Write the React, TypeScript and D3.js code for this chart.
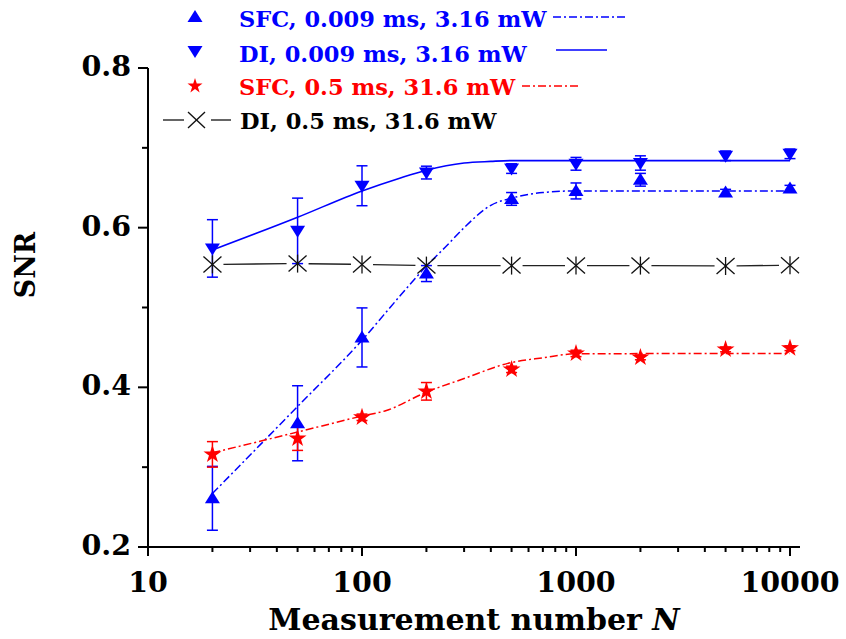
import React from "react";
import * as d3 from "d3";

// ---------- data ----------
const measurementN = [20, 50, 100, 200, 500, 1000, 2000, 5000, 10000];

const sfcFastSNR = [0.261, 0.355, 0.4625, 0.5425, 0.636, 0.646, 0.66, 0.644, 0.649];
const sfcFastErr = [0.04, 0.047, 0.037, 0.01, 0.008, 0.01, 0.008, 0.004, 0.004];

const diFastSNR = [0.574, 0.596, 0.6525, 0.669, 0.674, 0.68, 0.681, 0.69, 0.6925];
const diFastErr = [0.036, 0.041, 0.025, 0.008, 0.006, 0.008, 0.009, 0.006, 0.006];

const sfcSlowSNR = [0.316, 0.336, 0.3625, 0.395, 0.4225, 0.4425, 0.4375, 0.4475, 0.449];
const sfcSlowErr = [0.016, 0.015, 0.004, 0.011, 0.004, 0.004, 0.003, 0.003, 0.003];

const diSlowSNR = [0.554, 0.555, 0.554, 0.5525, 0.5525, 0.5525, 0.5525, 0.552, 0.553];

// fitted curves
const sfcFastFitN = [20, 50, 100, 150, 200, 250, 300, 400, 500, 700, 1000, 10000];
const sfcFastFit = [0.267, 0.376, 0.459, 0.514, 0.552, 0.578, 0.6, 0.628, 0.637, 0.644, 0.646, 0.646];

const diFastFitN = [20, 50, 100, 150, 200, 300, 400, 500, 10000];
const diFastFit = [0.572, 0.613, 0.646, 0.662, 0.672, 0.681, 0.683, 0.684, 0.684];

const sfcSlowFitN = [20, 50, 100, 130, 200, 300, 480, 700, 1000, 10000];
const sfcSlowFit = [0.318, 0.344, 0.364, 0.371, 0.394, 0.411, 0.43, 0.437, 0.442, 0.4425];

const xTickValues = [10, 100, 1000, 10000];
const yTickValues = [0.2, 0.4, 0.6, 0.8];
const yMinorValues = [0.3, 0.5, 0.7];

const legendLabels = [
  "SFC, 0.009 ms, 3.16 mW",
  "DI, 0.009 ms, 3.16 mW",
  "SFC, 0.5 ms, 31.6 mW",
  "DI, 0.5 ms, 31.6 mW",
];

// ---------- styling ----------
const BLUE = "#0000ff";
const RED = "#ff0000";
const FONT = "'DejaVu Serif', serif";
const DASHDOT = "8,3,2,3";

export default function App() {
  const x = d3.scaleLog().domain([10, 10000]).range([148, 790]);
  const y = d3.scaleLinear().domain([0.2, 0.8]).range([547, 68]);
  const xEnd = 800;

  const xMinor: number[] = [];
  [10, 100, 1000].forEach((dec) => {
    for (let k = 2; k <= 9; k++) xMinor.push(dec * k);
  });

  const line = d3
    .line<[number, number]>()
    .x((d) => x(d[0]))
    .y((d) => y(d[1]))
    .curve(d3.curveMonotoneX);

  const zip = (a: number[], b: number[]) => a.map((v, i) => [v, b[i]] as [number, number]);

  const triUp = "M0,-7 L7.5,5 L-7.5,5 Z";
  const triDown = "M0,7 L7.5,-5 L-7.5,-5 Z";
  const star = d3.symbol(d3.symbolStar, 100)() as string;
  const starSmall = d3.symbol(d3.symbolStar, 70)() as string;

  const errorBars = (vals: number[], errs: number[], color: string, key: string) =>
    measurementN.map((n, i) => {
      const cx = x(n);
      const y1 = y(vals[i] + errs[i]);
      const y2 = y(vals[i] - errs[i]);
      return (
        <g key={key + i} stroke={color} strokeWidth={1.5}>
          <line x1={cx} x2={cx} y1={y1} y2={y2} />
          <line x1={cx - 5.5} x2={cx + 5.5} y1={y1} y2={y1} />
          <line x1={cx - 5.5} x2={cx + 5.5} y1={y2} y2={y2} />
        </g>
      );
    });

  // black connecting line with gaps around markers
  const gap = 11;
  const blackSegs = measurementN.slice(0, -1).map((n, i) => {
    const x1 = x(n), y1 = y(diSlowSNR[i]);
    const x2 = x(measurementN[i + 1]), y2 = y(diSlowSNR[i + 1]);
    const L = Math.hypot(x2 - x1, y2 - y1);
    const ux = (x2 - x1) / L, uy = (y2 - y1) / L;
    return (
      <line
        key={"bs" + i}
        x1={x1 + ux * gap}
        y1={y1 + uy * gap}
        x2={x2 - ux * gap}
        y2={y2 - uy * gap}
        stroke="#222"
        strokeWidth={1.3}
      />
    );
  });

  const legendX = 239;
  const legendBase = [27, 62, 95, 129];
  const legendMid = [17, 51, 86, 120];

  return (
    <svg
      width={846}
      height={639}
      style={{ position: "absolute", left: 0, top: 0, background: "#fff" }}
      fontFamily={FONT}
    >
      <rect x={0} y={0} width={846} height={639} fill="#fff" />

      {/* axes */}
      <g stroke="#000" strokeWidth={2} fill="none">
        <line x1={x(10)} x2={xEnd} y1={y(0.2)} y2={y(0.2)} />
        <line x1={x(10)} x2={x(10)} y1={y(0.2)} y2={y(0.8)} />
        {yTickValues.map((v) => (
          <line key={"yt" + v} x1={x(10) - 10} x2={x(10)} y1={y(v)} y2={y(v)} />
        ))}
        {yMinorValues.map((v) => (
          <line key={"ym" + v} x1={x(10) - 6} x2={x(10)} y1={y(v)} y2={y(v)} />
        ))}
        {xTickValues.map((v) => (
          <line key={"xt" + v} x1={x(v)} x2={x(v)} y1={y(0.2)} y2={y(0.2) + 9} />
        ))}
        {xMinor.map((v) => (
          <line key={"xm" + v} x1={x(v)} x2={x(v)} y1={y(0.2)} y2={y(0.2) + 5} />
        ))}
      </g>

      {/* tick labels */}
      <g fontWeight="bold" fontSize={28.5} fill="#000">
        {yTickValues.map((v) => (
          <text key={"yl" + v} x={x(10) - 17} y={y(v) + 8} textAnchor="end">
            {v.toFixed(1)}
          </text>
        ))}
        {xTickValues.map((v) => (
          <text key={"xl" + v} x={x(v)} y={592} textAnchor="middle">
            {String(v)}
          </text>
        ))}
      </g>

      {/* axis titles */}
      <text x={474} y={630} textAnchor="middle" fontWeight="bold" fontSize={30}>
        Measurement number <tspan fontStyle="italic">N</tspan>
      </text>
      <text
        transform="translate(35,265) rotate(-90)"
        textAnchor="middle"
        fontWeight="bold"
        fontSize={27}
      >
        SNR
      </text>

      {/* fitted curves */}
      <path d={line(zip(sfcFastFitN, sfcFastFit)) as string} fill="none" stroke={BLUE} strokeWidth={1.5} strokeDasharray={DASHDOT} />
      <path d={line(zip(diFastFitN, diFastFit)) as string} fill="none" stroke={BLUE} strokeWidth={1.6} />
      <path d={line(zip(sfcSlowFitN, sfcSlowFit)) as string} fill="none" stroke={RED} strokeWidth={1.5} strokeDasharray={DASHDOT} />
      {blackSegs}

      {/* error bars */}
      {errorBars(sfcFastSNR, sfcFastErr, BLUE, "e1")}
      {errorBars(diFastSNR, diFastErr, BLUE, "e2")}
      {errorBars(sfcSlowSNR, sfcSlowErr, RED, "e3")}

      {/* markers */}
      {measurementN.map((n, i) => (
        <g key={"m" + i}>
          <g transform={`translate(${x(n)},${y(diSlowSNR[i])})`} stroke="#111" strokeWidth={1.3}>
            <line x1={-9} y1={-8} x2={9} y2={8} />
            <line x1={-9} y1={8} x2={9} y2={-8} />
            <line x1={0} y1={-9} x2={0} y2={9} />
          </g>
          <path d={triDown} transform={`translate(${x(n)},${y(diFastSNR[i])})`} fill={BLUE} />
          <path d={triUp} transform={`translate(${x(n)},${y(sfcFastSNR[i])})`} fill={BLUE} />
          <path d={star} transform={`translate(${x(n)},${y(sfcSlowSNR[i])})`} fill={RED} />
        </g>
      ))}

      {/* legend */}
      <g fontWeight="bold" fontSize={22.5}>
        <path d={triUp} transform={`translate(195,${legendMid[0]})`} fill={BLUE} />
        <text x={legendX} y={legendBase[0]} fill={BLUE}>{legendLabels[0]}</text>
        <line x1={553} x2={625} y1={legendMid[0]} y2={legendMid[0]} stroke={BLUE} strokeWidth={1.5} strokeDasharray={DASHDOT} />

        <path d={triDown} transform={`translate(195,${legendMid[1]})`} fill={BLUE} />
        <text x={legendX} y={legendBase[1]} fill={BLUE}>{legendLabels[1]}</text>
        <line x1={556} x2={607} y1={legendMid[1] - 1} y2={legendMid[1] - 1} stroke={BLUE} strokeWidth={1.5} />

        <path d={starSmall} transform={`translate(195,${legendMid[2]})`} fill={RED} />
        <text x={legendX} y={legendBase[2]} fill={RED}>{legendLabels[2]}</text>
        <line x1={522} x2={579} y1={legendMid[2]} y2={legendMid[2]} stroke={RED} strokeWidth={1.5} strokeDasharray={DASHDOT} />

        <g stroke="#111" strokeWidth={1.3}>
          <line x1={163} x2={184} y1={legendMid[3]} y2={legendMid[3]} />
          <line x1={211} x2={231} y1={legendMid[3]} y2={legendMid[3]} />
          <line x1={188} y1={112} x2={205} y2={128} />
          <line x1={188} y1={128} x2={205} y2={112} />
        </g>
        <text x={legendX + 1} y={legendBase[3]} fill="#000">{legendLabels[3]}</text>
      </g>
    </svg>
  );
}
